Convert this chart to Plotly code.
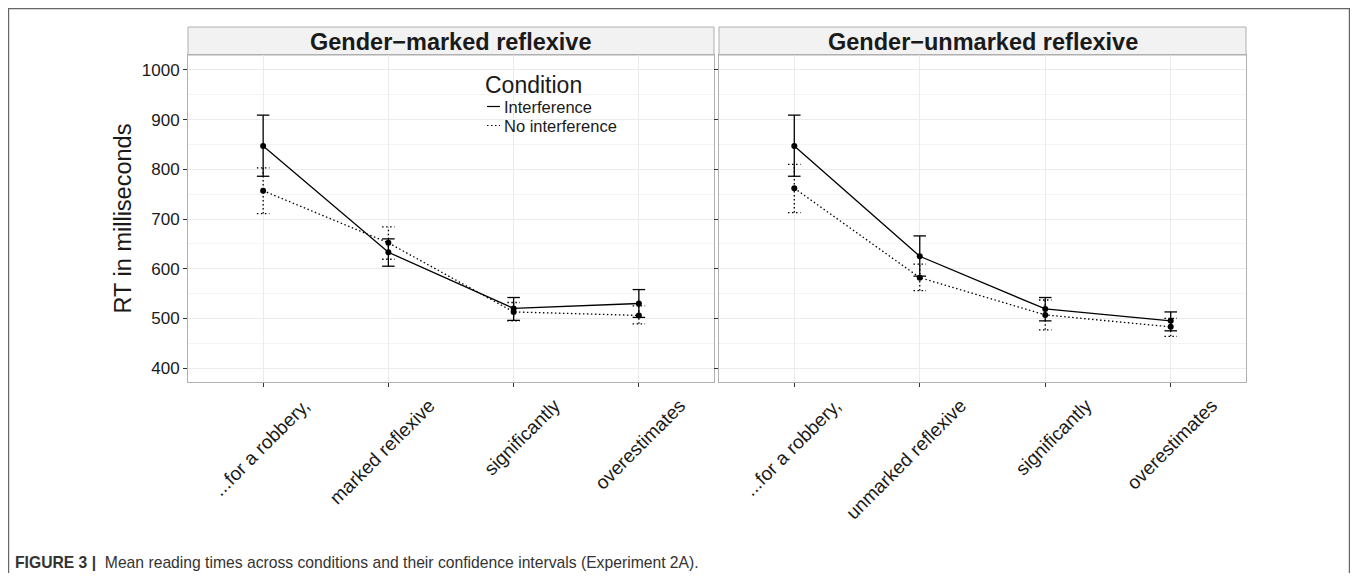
import plotly.graph_objects as go

# ---------------- data ----------------
panels = ["Gender\u2212marked reflexive", "Gender\u2212unmarked reflexive"]
labels_marked = ["...for a robbery,", "marked reflexive", "significantly", "overestimates"]
labels_unmarked = ["...for a robbery,", "unmarked reflexive", "significantly", "overestimates"]
positions = [0, 1, 2, 3]

conditions = ["Interference", "No interference"]

# Gender-marked panel
marked_int_mean = [847, 633, 520, 530]
marked_int_lo = [786, 605, 496, 502]
marked_int_hi = [909, 660, 542, 558]
marked_noint_mean = [757, 652, 513, 506]
marked_noint_lo = [711, 619, 495, 489]
marked_noint_hi = [803, 684, 532, 525]

# Gender-unmarked panel
unmarked_int_mean = [847, 625, 519, 495]
unmarked_int_lo = [786, 585, 495, 475]
unmarked_int_hi = [909, 666, 542, 513]
unmarked_noint_mean = [762, 582, 507, 483]
unmarked_noint_lo = [713, 556, 477, 464]
unmarked_noint_hi = [810, 609, 537, 500]

y_ticks = [400, 500, 600, 700, 800, 900, 1000]

# ---------------- layout constants (page pixels; body margin of 8px compensated) ----------------
OFF = 8
W, H = 1358 - 2 * OFF, 581 - 2 * OFF
pl_left = (188, 714)
pl_right = (719, 1246)
p_top, p_bot = 55, 382
strip_top = 27
cap = 0.05
dash_dot = "1.5px,2.5px"
FONT = "Liberation Sans"
TXT = "#1a1a1a"


def px_x(v):
    return (v - OFF) / W


def px_y(v):
    return 1 - (v - OFF) / H


def errbar_xy(xs, lo, hi, w):
    X, Y = [], []
    for x, a, b in zip(xs, lo, hi):
        X += [x, x, None, x - w, x + w, None, x - w, x + w, None]
        Y += [a, b, None, b, b, None, a, a, None]
    return X, Y


fig = go.Figure()

series = [
    ("x", "y", marked_int_mean, marked_int_lo, marked_int_hi, "solid", 0),
    ("x", "y", marked_noint_mean, marked_noint_lo, marked_noint_hi, dash_dot, 1),
    ("x2", "y2", unmarked_int_mean, unmarked_int_lo, unmarked_int_hi, "solid", 0),
    ("x2", "y2", unmarked_noint_mean, unmarked_noint_lo, unmarked_noint_hi, dash_dot, 1),
]

for xa, ya, mean, lo, hi, dash, ci in series:
    ex, ey = errbar_xy(positions, lo, hi, cap)
    fig.add_trace(go.Scatter(x=ex, y=ey, xaxis=xa, yaxis=ya, mode="lines",
                             line=dict(color="black", width=1.3, dash=dash),
                             showlegend=False, hoverinfo="skip"))
    fig.add_trace(go.Scatter(x=positions, y=mean, xaxis=xa, yaxis=ya, mode="lines",
                             line=dict(color="black", width=1.3, dash=dash),
                             name=conditions[ci], showlegend=False))
    fig.add_trace(go.Scatter(x=positions, y=mean, xaxis=xa, yaxis=ya, mode="markers",
                             marker=dict(color="black", size=6),
                             showlegend=False, hoverinfo="skip"))

axis_common = dict(
    range=[-0.6, 3.6], tickvals=positions, tickangle=-45,
    ticks="outside", ticklen=4, tickcolor="#333333", tickwidth=1,
    showgrid=True, gridcolor="#ebebeb", gridwidth=1,
    showline=True, mirror=True, linecolor="#b0b0b0", linewidth=1,
    zeroline=False,
    tickfont=dict(family=FONT, size=19, color=TXT),
    ticklabelshift=41, ticklabelstandoff=0,
)
yaxis_common = dict(
    range=[372, 1030], tickvals=y_ticks,
    ticks="outside", ticklen=4, tickcolor="#333333", tickwidth=1,
    showgrid=True, gridcolor="#ebebeb", gridwidth=1,
    minor=dict(dtick=50, tick0=0, showgrid=True, gridcolor="#f4f4f4", gridwidth=1, ticks=""),
    showline=True, mirror=True, linecolor="#b0b0b0", linewidth=1,
    zeroline=False,
    domain=[px_y(p_bot), px_y(p_top)],
)

fig.update_layout(
    width=W, height=H,
    margin=dict(l=0, r=0, t=0, b=0),
    paper_bgcolor="white", plot_bgcolor="white",
    font=dict(family=FONT, color=TXT),
    xaxis=dict(axis_common, domain=[px_x(pl_left[0]), px_x(pl_left[1])],
               ticktext=labels_marked, anchor="y"),
    xaxis2=dict(axis_common, domain=[px_x(pl_right[0]), px_x(pl_right[1])],
                ticktext=labels_unmarked, anchor="y2"),
    yaxis=dict(yaxis_common, anchor="x",
               tickfont=dict(family=FONT, size=17, color=TXT),
               title=dict(text="RT in milliseconds", standoff=3,
                          font=dict(family=FONT, size=23.5, color=TXT))),
    yaxis2=dict(yaxis_common, anchor="x2", matches="y", showticklabels=False),
    showlegend=False,
)

# strips
for (x0, x1), title in zip([pl_left, pl_right], panels):
    fig.add_shape(type="rect", xref="paper", yref="paper",
                  x0=px_x(x0), x1=px_x(x1), y0=px_y(p_top), y1=px_y(strip_top),
                  fillcolor="#f2f2f2", line=dict(color="#b0b0b0", width=1), layer="below")
    fig.add_annotation(xref="paper", yref="paper", x=px_x((x0 + x1) / 2), y=px_y((p_top + strip_top) / 2 + 1),
                       text="<b>%s</b>" % title, showarrow=False, xanchor="center", yanchor="middle",
                       font=dict(family=FONT, size=23.5, color=TXT))

# legend (inside left panel, white background)
fig.add_shape(type="rect", xref="paper", yref="paper",
              x0=px_x(480), x1=px_x(638), y0=px_y(136), y1=px_y(72),
              fillcolor="white", line=dict(width=0), layer="between")
fig.add_annotation(xref="paper", yref="paper", x=px_x(483), y=px_y(85),
                   text="Condition", showarrow=False, xanchor="left", yanchor="middle",
                   font=dict(family=FONT, size=23, color=TXT))
legend_rows = [(conditions[0], 106.5, "solid"), (conditions[1], 125.5, "dot")]
for name, yy, dsh in legend_rows:
    fig.add_shape(type="line", xref="paper", yref="paper",
                  x0=px_x(487), x1=px_x(500), y0=px_y(yy), y1=px_y(yy),
                  line=dict(color="black", width=1.2, dash=(dash_dot if dsh == "dot" else "solid")))
    fig.add_annotation(xref="paper", yref="paper", x=px_x(502), y=px_y(yy),
                       text=name, showarrow=False, xanchor="left", yanchor="middle",
                       font=dict(family=FONT, size=16.5, color=TXT))

# outer frame
fig.add_shape(type="rect", xref="paper", yref="paper",
              x0=0.6 / W, x1=1 - 0.6 / W, y0=-0.05, y1=1 - 0.6 / H,
              line=dict(color="#666666", width=1.2), fillcolor="rgba(0,0,0,0)")

# caption
fig.add_annotation(xref="paper", yref="paper", x=px_x(13), y=px_y(562),
                   text="<b>FIGURE 3 |</b>  Mean reading times across conditions and their confidence intervals (Experiment 2A).",
                   showarrow=False, xanchor="left", yanchor="middle",
                   font=dict(family=FONT, size=15.7, color="#333333"))

fig.write_html("out.html")
